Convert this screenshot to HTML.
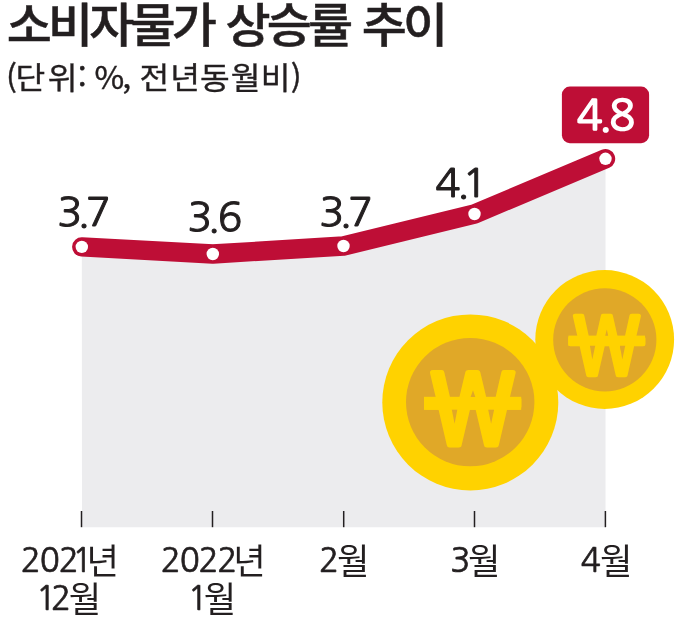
<!DOCTYPE html>
<html lang="ko">
<head>
<meta charset="utf-8">
<title>소비자물가 상승률 추이</title>
<style>
html,body{margin:0;padding:0;background:#fff;}
body{width:680px;height:639px;overflow:hidden;position:relative;font-family:"Noto Sans CJK KR","Liberation Sans","NanumGothic",sans-serif;}
svg{position:absolute;left:0;top:0;display:block;}
.won{font-family:"NanumGothic","Noto Sans CJK KR","Liberation Sans",sans-serif;font-weight:700;fill:#ffd200;stroke:#ffd200;stroke-linejoin:miter;}
</style>
</head>
<body>
<svg width="680" height="639" viewBox="0 0 680 639">
  <rect width="680" height="639" fill="#ffffff"/>
  <polygon points="81.8,246.9 212.8,254.0 343.5,246.0 474.5,214.0 605.5,158.8 605.5,527.2 82,527.2" fill="#ececee"/>
  <g stroke="#231f20" stroke-width="1.5">
    <line x1="81.5" y1="511" x2="81.5" y2="527.2"/>
    <line x1="212.5" y1="511" x2="212.5" y2="527.2"/>
    <line x1="343.7" y1="511" x2="343.7" y2="527.2"/>
    <line x1="474.5" y1="511" x2="474.5" y2="527.2"/>
    <line x1="605.4" y1="511" x2="605.4" y2="527.2"/>
  </g>
  <g>
    <circle cx="470.3" cy="402.4" r="88" fill="#ffd200"/>
    <circle cx="470.2" cy="402.1" r="64.2" fill="#e0a828"/>
    <text transform="translate(420.92 445.25) scale(0.9952 0.9611)" style='stroke-linejoin:miter;font-family:"NanumGothic","Noto Sans CJK KR","Liberation Sans",sans-serif;font-size:108px;font-weight:700;fill:#ffd200;stroke:#ffd200;stroke-width:3px;'>₩</text>
    <rect x="424" y="396.8" width="97.2" height="13.1" fill="#ffd200"/>
    <path d="M451.8 409.7h5.5l-2.7 14.1zM488.2 409.7h5.9l-3 14.1zM470.6 397h4.7l-2.3-6.7z" fill="#e0a828"/>
    <circle cx="604.7" cy="339.5" r="69.4" fill="#ffd200"/>
    <circle cx="604.8" cy="339.8" r="51.6" fill="#e0a828"/>
    <text transform="translate(565.76 375.25) scale(1.0040 0.9980)" style='stroke-linejoin:miter;font-family:"NanumGothic","Noto Sans CJK KR","Liberation Sans",sans-serif;font-size:85px;font-weight:700;fill:#ffd200;stroke:#ffd200;stroke-width:2.4px;'>₩</text>
    <rect x="568.4" y="335.6" width="76.6" height="10.3" fill="#ffd200"/>
    <path d="M589.9 345.7h5.3l-2.9 13.7zM619.9 345.7h5.3l-2.9 13.7zM605.2 335.8h3l-1.4-6.4z" fill="#e0a828"/>
  </g>
  <polyline points="81.8,246.9 212.8,254.0 343.5,246.0 474.5,214.0 605.5,158.8" fill="none" stroke="#be0e36" stroke-width="19.4" stroke-linecap="round" stroke-linejoin="round"/>
  <g fill="#ffffff">
    <circle cx="81.8" cy="246.9" r="6.2"/>
    <circle cx="212.8" cy="254.0" r="6.2"/>
    <circle cx="343.5" cy="246.0" r="6.2"/>
    <circle cx="474.5" cy="214.0" r="6.2"/>
    <circle cx="605.5" cy="158.8" r="6.2"/>
  </g>
  <rect x="561.9" y="86.6" width="87.2" height="56.6" rx="8" ry="8" fill="#be0e36"/>
  <text transform="translate(6.68 42.25) scale(1.0657 1.0150)" style='font-family:"Noto Sans CJK KR","Liberation Sans","NanumGothic",sans-serif;font-size:46px;font-weight:500;letter-spacing:-3.6px;word-spacing:2.5px;fill:#231f20;stroke:#231f20;stroke-width:0.5px;'>소비자물가 상승률 추이</text>
  <text transform="translate(6.09 89.25) scale(0.9783 0.9338)" dx="0 -1.5 2.5 0.5 0 -1.5 -2 0 -0.75 1 0.1 1.1 0.2 0.35" style='font-family:"Noto Sans CJK KR","Liberation Sans","NanumGothic",sans-serif;font-size:33px;font-weight:400;fill:#231f20;stroke:#231f20;stroke-width:0.4px;'>(단위: %, 전년동월비)</text>
  <text transform="translate(57.30 226.25) scale(1.0337 0.9850)" dx="0 -4.7 -4" style='font-family:"NanumGothic","Noto Sans CJK KR","Liberation Sans",sans-serif;font-size:40px;font-weight:400;fill:#231f20;stroke:#231f20;stroke-width:1.0px;'>3.7</text>
  <text transform="translate(187.48 231.25) scale(1.0159 0.9850)" dx="0 -4.4 -2.2" style='font-family:"NanumGothic","Noto Sans CJK KR","Liberation Sans",sans-serif;font-size:40px;font-weight:400;fill:#231f20;stroke:#231f20;stroke-width:1.0px;'>3.6</text>
  <text transform="translate(319.27 226.25) scale(1.0347 0.9850)" dx="0 -4.7 -4" style='font-family:"NanumGothic","Noto Sans CJK KR","Liberation Sans",sans-serif;font-size:40px;font-weight:400;fill:#231f20;stroke:#231f20;stroke-width:1.0px;'>3.7</text>
  <text transform="translate(435.23 197.25) scale(1.0443 0.9850)" dx="0 -3.5 -6.9" style='font-family:"NanumGothic","Noto Sans CJK KR","Liberation Sans",sans-serif;font-size:40px;font-weight:400;fill:#231f20;stroke:#231f20;stroke-width:1.0px;'>4.1</text>
  <text transform="translate(576.71 130.25) scale(1.0180 0.9952)" dx="0 -3.6 -2.6" style='font-family:"NanumGothic","Noto Sans CJK KR","Liberation Sans",sans-serif;font-size:42px;font-weight:400;fill:#ffffff;stroke:#ffffff;stroke-width:1.7px;'>4.8</text>
  <text><tspan x="20.65" y="572.25" dx="0 0 0 -5.5" style='font-family:"NanumGothic","Noto Sans CJK KR","Liberation Sans",sans-serif;font-size:33.2px;font-weight:400;letter-spacing:-1.05px;fill:#231f20;stroke:#231f20;stroke-width:0.7px;'>2021</tspan><tspan x="86.45" y="574.25" style='font-family:"Noto Sans CJK KR","Liberation Sans","NanumGothic",sans-serif;font-size:35.3px;font-weight:400;fill:#231f20;'>년</tspan></text>
  <text><tspan x="36.01" y="610.25" dx="0 -5.1" style='font-family:"NanumGothic","Noto Sans CJK KR","Liberation Sans",sans-serif;font-size:33.2px;font-weight:400;fill:#231f20;stroke:#231f20;stroke-width:0.7px;'>12</tspan><tspan x="68.66" y="612.25" style='font-family:"Noto Sans CJK KR","Liberation Sans","NanumGothic",sans-serif;font-size:35.3px;font-weight:400;fill:#231f20;'>월</tspan></text>
  <text><tspan x="160.85" y="572.25" style='font-family:"NanumGothic","Noto Sans CJK KR","Liberation Sans",sans-serif;font-size:33.2px;font-weight:400;letter-spacing:-1.3px;fill:#231f20;stroke:#231f20;stroke-width:0.7px;'>2022</tspan><tspan x="233.35" y="574.25" style='font-family:"Noto Sans CJK KR","Liberation Sans","NanumGothic",sans-serif;font-size:35.3px;font-weight:400;fill:#231f20;'>년</tspan></text>
  <text><tspan x="187.85" y="610.25" style='font-family:"NanumGothic","Noto Sans CJK KR","Liberation Sans",sans-serif;font-size:33.2px;font-weight:400;fill:#231f20;stroke:#231f20;stroke-width:0.7px;'>1</tspan><tspan x="203.78" y="612.25" style='font-family:"Noto Sans CJK KR","Liberation Sans","NanumGothic",sans-serif;font-size:35.3px;font-weight:400;fill:#231f20;'>월</tspan></text>
  <text><tspan x="319.10" y="572.25" style='font-family:"NanumGothic","Noto Sans CJK KR","Liberation Sans",sans-serif;font-size:33.2px;font-weight:400;fill:#231f20;stroke:#231f20;stroke-width:0.7px;'>2</tspan><tspan x="337.00" y="574.25" style='font-family:"Noto Sans CJK KR","Liberation Sans","NanumGothic",sans-serif;font-size:35.3px;font-weight:400;fill:#231f20;'>월</tspan></text>
  <text><tspan x="450.19" y="572.25" style='font-family:"NanumGothic","Noto Sans CJK KR","Liberation Sans",sans-serif;font-size:33.2px;font-weight:400;fill:#231f20;stroke:#231f20;stroke-width:0.7px;'>3</tspan><tspan x="468.05" y="574.25" style='font-family:"Noto Sans CJK KR","Liberation Sans","NanumGothic",sans-serif;font-size:35.3px;font-weight:400;fill:#231f20;'>월</tspan></text>
  <text><tspan x="580.74" y="572.25" style='font-family:"NanumGothic","Noto Sans CJK KR","Liberation Sans",sans-serif;font-size:33.2px;font-weight:400;fill:#231f20;stroke:#231f20;stroke-width:0.7px;'>4</tspan><tspan x="599.91" y="574.25" style='font-family:"Noto Sans CJK KR","Liberation Sans","NanumGothic",sans-serif;font-size:35.3px;font-weight:400;fill:#231f20;'>월</tspan></text>
</svg>
</body>
</html>
